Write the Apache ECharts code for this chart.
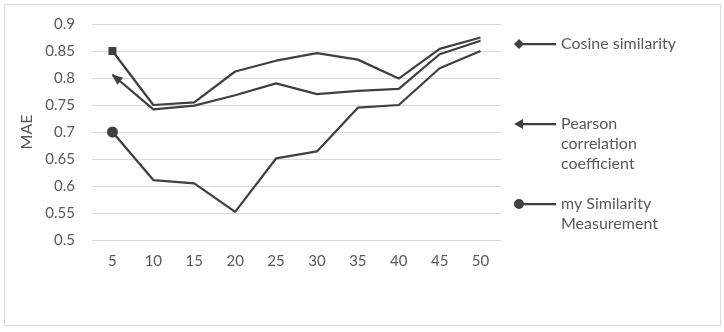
<!DOCTYPE html>
<html><head><meta charset="utf-8">
<script src="https://cdn.jsdelivr.net/npm/echarts@6/dist/echarts.min.js"></script>
<style>html,body{margin:0;padding:0;background:#fff}#c{width:724px;height:332px}</style>
</head><body><div id="c"></div>
<script>
var categories = ['5','10','15','20','25','30','35','40','45','50'];
var cosine = [0.85, 0.75, 0.755, 0.812, 0.832, 0.846, 0.834, 0.799, 0.854, 0.875];
var pearson = [0.806, 0.742, 0.749, 0.768, 0.79, 0.77, 0.776, 0.78, 0.844, 0.869];
var mySim = [0.70, 0.611, 0.605, 0.552, 0.651, 0.664, 0.745, 0.75, 0.818, 0.85];
var yTicks = {min: 0.5, max: 0.9, interval: 0.05};
var names = ['Cosine similarity', 'Pearson\ncorrelation\ncoefficient', 'my Similarity\nMeasurement'];

var lineColor = '#404040';
var font = 'Lato, "Open Sans", sans-serif';

function firstMarked(arr, sym) {
  return arr.map(function (v, i) {
    if (i === 0) {
      var o = {value: v};
      for (var k in sym) o[k] = sym[k];
      return o;
    }
    return {value: v, symbol: 'none'};
  });
}

var chart = echarts.init(document.getElementById('c'), null, {renderer: 'canvas'});
var legendText = {color: '#595959', fontSize: 16, fontFamily: font, lineHeight: 20};
function legend(name, icon, top) {
  return {
    left: 514, top: top, orient: 'vertical', padding: 0,
    itemWidth: 42, itemHeight: 10, itemGap: 0,
    textStyle: legendText,
    itemStyle: {borderWidth: 0},
    formatter: function (n) {
      var lines = n.split('\n').length;
      return new Array(lines).join('\n') + n;
    },
    data: [{name: name, icon: icon}]
  };
}
chart.setOption({
  animation: false,
  backgroundColor: '#fff',
  graphic: [{type: 'rect', shape: {x: 4.5, y: 4.5, width: 716, height: 321}, style: {fill: 'none', stroke: '#d9d9d9', lineWidth: 1}, silent: true}],
  grid: {left: 92, right: 223, top: 24, bottom: 92},
  legend: [
    legend(names[0], 'path://M0,5 L5,0 L10,5 L5,10 Z M8,4 L42,4 L42,6.2 L8,6.2 Z', 34),
    legend(names[1], 'path://M9,0 L9,10 L0,5 Z M8,4 L42,4 L42,6.2 L8,6.2 Z', 74),
    legend(names[2], 'path://M0,5 A5,5 0 1 1 10,5 A5,5 0 1 1 0,5 Z M8,4 L42,4 L42,6.2 L8,6.2 Z', 174)
  ],
  xAxis: {
    type: 'category', data: categories, boundaryGap: true,
    axisLine: {show: false}, axisTick: {show: false},
    axisLabel: {color: '#595959', fontSize: 15, fontFamily: font, margin: 14}
  },
  yAxis: {
    type: 'value', min: yTicks.min, max: yTicks.max, interval: yTicks.interval,
    name: 'MAE', nameLocation: 'middle', nameRotate: 90, nameGap: 52,
    nameTextStyle: {color: '#595959', fontSize: 16, fontFamily: font},
    axisLine: {show: false}, axisTick: {show: false},
    axisLabel: {color: '#595959', fontSize: 15, fontFamily: font, margin: 17},
    splitLine: {lineStyle: {color: '#d9d9d9', width: 1}}
  },
  series: [
    {name: names[0], type: 'line', symbol: 'none', showSymbol: true, color: lineColor,
     lineStyle: {color: lineColor, width: 2.25},
     data: firstMarked(cosine, {symbol: 'rect', symbolSize: 8})},
    {name: names[1], type: 'line', symbol: 'none', showSymbol: true, color: lineColor,
     lineStyle: {color: lineColor, width: 2.25},
     data: firstMarked(pearson, {symbol: 'triangle', symbolSize: [9, 11], symbolRotate: 51, symbolOffset: [3.5, 3]})},
    {name: names[2], type: 'line', symbol: 'none', showSymbol: true, color: lineColor,
     lineStyle: {color: lineColor, width: 2.25},
     data: firstMarked(mySim, {symbol: 'circle', symbolSize: 11})}
  ]
});
</script></body></html>
